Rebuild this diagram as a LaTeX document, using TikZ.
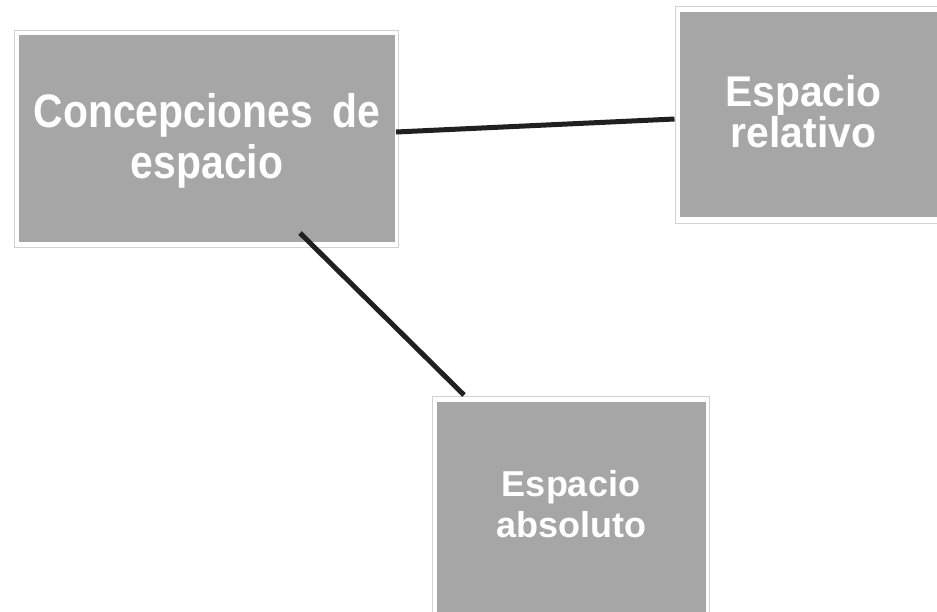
\documentclass[tikz,border=0pt]{standalone}
\usepackage{fontspec}
\setmainfont{Liberation Sans}
\newfontfamily\fontA[FakeStretch=0.87]{Liberation Sans}
\newfontfamily\fontB[FakeStretch=0.95]{Liberation Sans}
\newfontfamily\fontC{Liberation Sans}
\definecolor{boxgray}{HTML}{A6A6A6}
\definecolor{bordergray}{HTML}{D2D2D2}
\definecolor{linedark}{HTML}{202020}
\tikzset{
  outerbox/.style={draw=bordergray, line width=1pt, fill=white, inner sep=0pt, outer sep=0pt},
  graybox/.style={fill=boxgray, draw=none, inner sep=0pt, outer sep=0pt},
  boxtext/.style={text=white, align=center, inner sep=0pt, anchor=base},
  conn/.style={draw=linedark, line width=5pt}
}
\begin{document}
\begin{tikzpicture}[x=1pt, y=-1pt]
\useasboundingbox (0,0) rectangle (937,611);
% Concepciones de espacio
\node[outerbox, minimum width=384pt, minimum height=217pt] (c-out) at (206.5,139) {};
\node[graybox, minimum width=376pt, minimum height=207pt] (c) at (207,138.5) {};
\node[boxtext, font=\fontA\bfseries\fontsize{47}{51}\selectfont] (c-t) at (207,178.5) {Concepciones\ \hspace{8pt}de\\espacio};
% Espacio relativo
\node[outerbox, minimum width=280pt, minimum height=217pt] (r-out) at (815.5,114.5) {};
\node[graybox, minimum width=270pt, minimum height=205pt] (r) at (815,114.5) {};
\node[boxtext, font=\fontB\bfseries\fontsize{43}{39}\selectfont] (r-t) at (803.5,147.3) {Espacio\\relativo};
% Espacio absoluto
\node[outerbox, minimum width=277pt, minimum height=230pt] (a-out) at (571,511.5) {};
\node[graybox, minimum width=269pt, minimum height=220pt] (a) at (571.5,512) {};
\node[boxtext, font=\fontC\bfseries\fontsize{36}{40.6}\selectfont] (a-t) at (571,537.3) {Espacio\\absoluto};
% connectors
\draw[conn] ([shift={(1,-6.5)}]c.east) -- ([shift={(-1,4.5)}]r-out.west);
\draw[conn] ([shift={(93,-9)}]c.south) -- ([shift={(-107,-1.5)}]a-out.north);
\end{tikzpicture}
\end{document}
